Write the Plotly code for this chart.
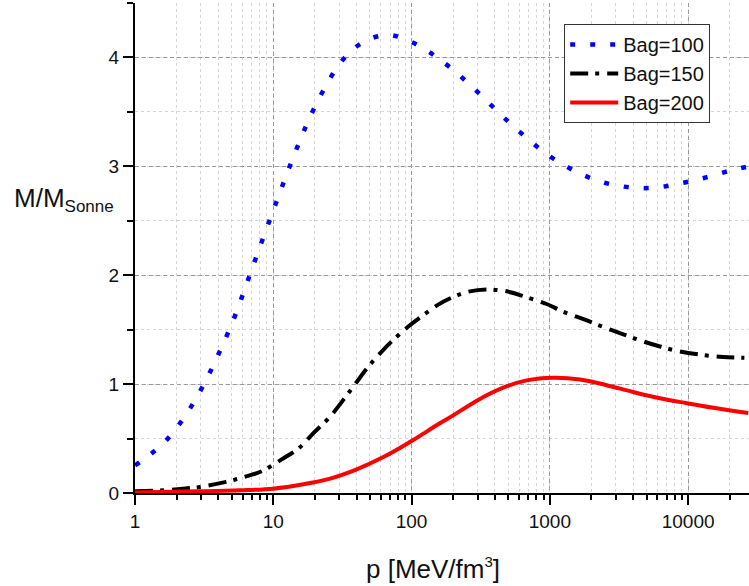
import plotly.graph_objects as go

# Bag = 100
p100 = [1, 1.31, 1.66, 2.07, 2.51, 3.0, 3.52, 4.09, 4.70, 5.37, 6.07, 6.78, 7.59, 8.6, 9.77,
        11.0, 12.4, 14.0, 16.0, 18.2, 21.2, 25.0, 30.1, 38.1, 50.8, 70.2, 96.2, 125, 160, 207,
        263, 338, 429, 553, 718, 927, 1250, 1680, 2300, 3180, 4410, 6080, 8340, 11400, 15600,
        21000, 27500]
m100 = [0.254, 0.36, 0.477, 0.624, 0.78, 0.949, 1.12, 1.297, 1.47, 1.65, 1.835, 2.006, 2.18, 2.37, 2.56,
        2.737, 2.915, 3.09, 3.27, 3.44, 3.61, 3.78, 3.94, 4.08, 4.175, 4.205, 4.15, 4.075, 3.98, 3.87,
        3.75, 3.62, 3.49, 3.36, 3.235, 3.12, 3.015, 2.93, 2.862, 2.82, 2.80, 2.807, 2.838, 2.875, 2.92,
        2.967, 3.0]

# Bag = 150
p150 = [1, 1.6, 2.23, 2.95, 4.48, 6.17, 8.24, 11.5, 15.6, 19.5, 25.7, 32.1, 40.1, 49.4, 62.5,
        78.0, 97.2, 122, 156, 200, 250, 349, 488, 679, 938, 1250, 1770, 2430, 3360, 4610, 6350,
        8730, 12700, 17900, 25500]
m150 = [0.016, 0.025, 0.04, 0.055, 0.10, 0.147, 0.20, 0.309, 0.42, 0.55, 0.70, 0.855, 1.02, 1.17, 1.315,
        1.435, 1.54, 1.635, 1.73, 1.80, 1.845, 1.869, 1.852, 1.798, 1.738, 1.665, 1.594, 1.525, 1.459, 1.397, 1.343,
        1.30, 1.268, 1.25, 1.242]

# Bag = 200
p200 = [1, 2.79, 5.75, 10.0, 16.5, 25.7, 40.1, 62.5, 97.2, 115, 158, 200, 303, 460, 679, 1060, 1650,
        2570, 4010, 6250, 9750, 15200, 27200]
m200 = [0.005, 0.015, 0.025, 0.04, 0.08, 0.132, 0.217, 0.33, 0.468, 0.525, 0.636, 0.713, 0.855, 0.967,
        1.034, 1.059, 1.043, 0.99, 0.927, 0.870, 0.825, 0.783, 0.734]

# axis ticks
x_tickvals = [1, 10, 100, 1000, 10000]
x_ticktext = ["1", "10", "100", "1000", "10000"]
y_tickvals = [0, 1, 2, 3, 4]

FONT = "Arial, Liberation Sans, sans-serif"

fig = go.Figure()
fig.add_trace(go.Scatter(x=p100, y=m100, mode="lines", name="Bag=100",
                         line=dict(color="#0000ff", width=4.5, dash="5px,15px", shape="spline")))
fig.add_trace(go.Scatter(x=p150, y=m150, mode="lines", name="Bag=150",
                         line=dict(color="#000000", width=4, dash="18px,7px,4px,8px", shape="spline")))
fig.add_trace(go.Scatter(x=p200, y=m200, mode="lines", name="Bag=200",
                         line=dict(color="#ff0000", width=4, shape="spline")))

fig.update_layout(
    width=749, height=586,
    margin=dict(l=135, r=0, t=3, b=93),
    paper_bgcolor="white", plot_bgcolor="white",
    font=dict(family=FONT, size=19, color="#111"),
    showlegend=True,
    legend=dict(x=0.699, y=0.957, xanchor="left", yanchor="top",
                bgcolor="white", bordercolor="#333", borderwidth=1,
                font=dict(family=FONT, size=20, color="#111"),
                itemwidth=48),
    xaxis=dict(type="log", range=[0, 4.44], tickvals=x_tickvals, ticktext=x_ticktext,
               showline=True, linecolor="black", linewidth=2,
               ticks="outside", ticklen=10, tickwidth=2, tickcolor="black",
               tickfont=dict(family=FONT, size=19, color="#111"),
               showgrid=True, gridcolor="#9a9a9a", gridwidth=1, griddash="4px,3px",
               zeroline=False, mirror=False,
               minor=dict(dtick="D1", ticks="outside", ticklen=5, tickwidth=2, tickcolor="black",
                          showgrid=True, gridcolor="#d6d6d6", gridwidth=1, griddash="3px,3px")),
    yaxis=dict(range=[0, 4.5], tickvals=y_tickvals,
               showline=True, linecolor="black", linewidth=2,
               ticks="outside", ticklen=10, tickwidth=2, tickcolor="black",
               tickfont=dict(family=FONT, size=19, color="#111"),
               showgrid=True, gridcolor="#9a9a9a", gridwidth=1, griddash="4px,3px",
               zeroline=False,
               minor=dict(dtick=0.5, ticks="outside", ticklen=6, tickwidth=2, tickcolor="black",
                          showgrid=True, gridcolor="#d6d6d6", gridwidth=1, griddash="3px,3px")),
)

fig.add_annotation(text="M/M<sub><span style='font-size:17px'>Sonne</span></sub>",
                   xref="paper", yref="paper",
                   x=-0.2, y=0.598, xanchor="left", yanchor="middle", showarrow=False,
                   font=dict(family=FONT, size=26, color="#111"))
fig.add_annotation(text="p [MeV/fm<sup><span style='font-size:15px'>3</span></sup>]",
                   xref="paper", yref="paper",
                   x=0.485, y=-0.19, xanchor="center", yanchor="bottom", showarrow=False,
                   font=dict(family=FONT, size=26, color="#111"))

fig.write_html("out.html")
